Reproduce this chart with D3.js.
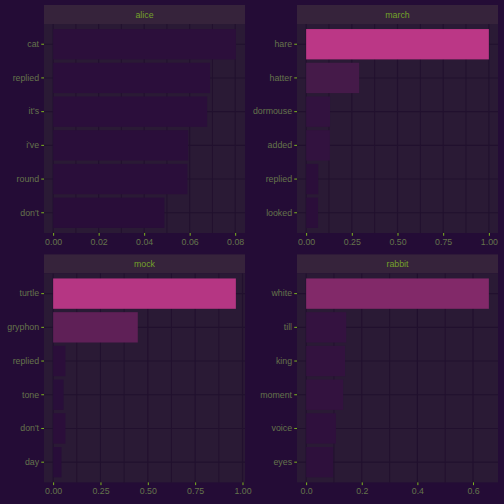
<!DOCTYPE html>
<html><head><meta charset="utf-8">
<script src="https://cdn.jsdelivr.net/npm/d3@7"></script>
<style>html,body{margin:0;padding:0;background:#240c36;}svg{display:block;}</style>
</head><body>
<script>
const facets = ["alice", "march", "mock", "rabbit"];
const aliceWords = ["cat", "replied", "it's", "i've", "round", "don't"];
const aliceValues = [0.0803, 0.0690, 0.0677, 0.0594, 0.0590, 0.0489];
const marchWords = ["hare", "hatter", "dormouse", "added", "replied", "looked"];
const marchValues = [1.0, 0.290, 0.131, 0.130, 0.066, 0.065];
const mockWords = ["turtle", "gryphon", "replied", "tone", "don't", "day"];
const mockValues = [0.965, 0.447, 0.065, 0.055, 0.065, 0.044];
const rabbitWords = ["white", "till", "king", "moment", "voice", "eyes"];
const rabbitValues = [0.657, 0.144, 0.140, 0.133, 0.107, 0.097];
const aliceTicks = [0, 0.02, 0.04, 0.06, 0.08];
const marchTicks = [0, 0.25, 0.5, 0.75, 1.0];
const mockTicks = [0, 0.25, 0.5, 0.75, 1.0];
const rabbitTicks = [0, 0.2, 0.4, 0.6];

const panelsData = [
  {name: facets[0], words: aliceWords, values: aliceValues, ticks: aliceTicks, fmt: ".2f"},
  {name: facets[1], words: marchWords, values: marchValues, ticks: marchTicks, fmt: ".2f"},
  {name: facets[2], words: mockWords, values: mockValues, ticks: mockTicks, fmt: ".2f"},
  {name: facets[3], words: rabbitWords, values: rabbitValues, ticks: rabbitTicks, fmt: ".1f"}
];

const W = 504, H = 504;
const BG = "#240c36", PANEL = "#2a1a35", STRIP = "#36233b", GRID = "#21102e";
const AXTEXT = "#65744c", STRIPTEXT = "#74a22a", TICK = "#7db51e";
const colX = [44, 297], colW = 201;
const rowY = [5, 254.4], stripH = 19, panelH = 209;

const color = d3.scaleLinear().domain([0, 0.3, 1]).range(["#230b36", "#461a4a", "#bb3786"]).clamp(true);

const svg = d3.select("body").append("svg").attr("width", W).attr("height", H);
svg.append("rect").attr("width", W).attr("height", H).attr("fill", BG);

panelsData.forEach((p, i) => {
  const cx = colX[i % 2], ry = rowY[Math.floor(i / 2)];
  const py = ry + stripH;
  const g = svg.append("g");
  // strip
  g.append("rect").attr("x", cx).attr("y", ry).attr("width", colW).attr("height", stripH).attr("fill", STRIP);
  g.append("text").attr("x", cx + colW / 2).attr("y", ry + stripH / 2 + 3.1)
    .attr("text-anchor", "middle").attr("font-family", "Liberation Sans, Arial, sans-serif")
    .attr("font-size", 8.8).attr("fill", STRIPTEXT).text(p.name);
  // panel
  g.append("rect").attr("x", cx).attr("y", py).attr("width", colW).attr("height", panelH).attr("fill", PANEL);
  const maxV = d3.max(p.values);
  const x = d3.scaleLinear().domain([-0.05 * maxV, maxV * 1.05]).range([cx, cx + colW]);
  const y = d3.scaleBand().domain(p.words).range([py, py + panelH]).paddingInner(0.1).paddingOuter(0.15);
  // minor grid
  const minors = [];
  for (let k = 0; k < p.ticks.length - 1; k++) minors.push((p.ticks[k] + p.ticks[k + 1]) / 2);
  g.selectAll(".minor").data(minors).enter().append("line")
    .attr("x1", d => x(d)).attr("x2", d => x(d)).attr("y1", py).attr("y2", py + panelH)
    .attr("stroke", GRID).attr("stroke-width", 0.9);
  g.selectAll(".majx").data(p.ticks).enter().append("line")
    .attr("x1", d => x(d)).attr("x2", d => x(d)).attr("y1", py).attr("y2", py + panelH)
    .attr("stroke", GRID).attr("stroke-width", 1.1);
  g.selectAll(".majy").data(p.words).enter().append("line")
    .attr("x1", cx).attr("x2", cx + colW)
    .attr("y1", d => y(d) + y.bandwidth() / 2).attr("y2", d => y(d) + y.bandwidth() / 2)
    .attr("stroke", GRID).attr("stroke-width", 1.1);
  // bars
  g.selectAll(".bar").data(p.words.map((w, k) => ({w, v: p.values[k]}))).enter().append("rect")
    .attr("x", x(0)).attr("y", d => y(d.w)).attr("width", d => x(d.v) - x(0)).attr("height", y.bandwidth())
    .attr("fill", d => color(d.v));
  // x axis
  const xa = d3.axisBottom(x).tickValues(p.ticks).tickFormat(d3.format(p.fmt)).tickSize(2.75).tickPadding(2.5);
  const xg = g.append("g").attr("transform", `translate(0,${py + panelH})`).call(xa);
  xg.select(".domain").remove();
  xg.selectAll(".tick line").attr("stroke", TICK).attr("stroke-width", 1);
  xg.selectAll(".tick text").attr("fill", AXTEXT).attr("font-size", 8.8)
    .attr("font-family", "Liberation Sans, Arial, sans-serif").attr("dy", "0.72em");
  // y axis
  const ya = d3.axisLeft(y).tickSize(2.75).tickPadding(2.2);
  const yg = g.append("g").attr("transform", `translate(${cx},0)`).call(ya);
  yg.select(".domain").remove();
  yg.selectAll(".tick line").attr("stroke", TICK).attr("stroke-width", 1);
  yg.selectAll(".tick text").attr("fill", AXTEXT).attr("font-size", 8.8)
    .attr("font-family", "Liberation Sans, Arial, sans-serif");
});
</script>
</body></html>
